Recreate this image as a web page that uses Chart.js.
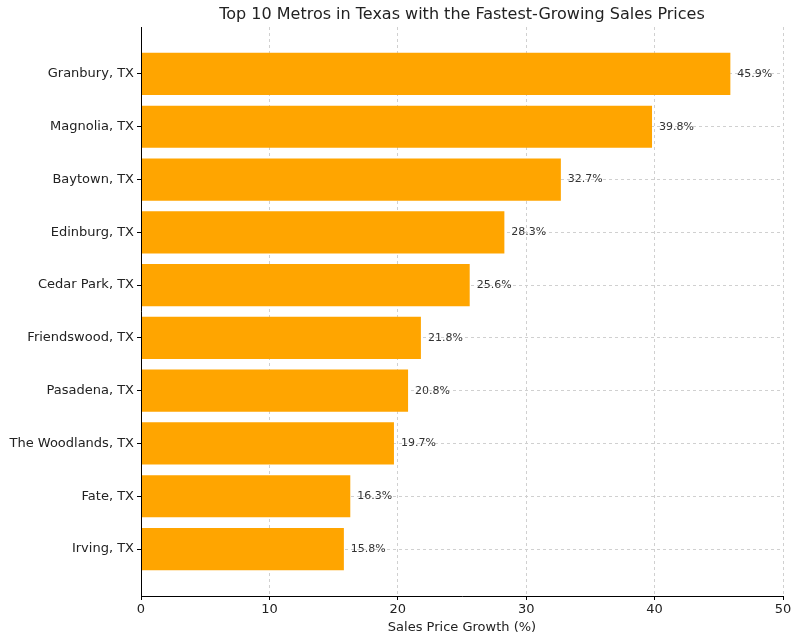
<!DOCTYPE html>
<html><head><meta charset="utf-8">
<script src="https://cdn.jsdelivr.net/npm/chart.js@4"></script>
<style>html,body{margin:0;padding:0;background:#fff}#w{width:800px;height:639px}</style>
</head><body><div id="w"><canvas id="c"></canvas></div>
<script>
const categories = ["Granbury, TX","Magnolia, TX","Baytown, TX","Edinburg, TX","Cedar Park, TX","Friendswood, TX","Pasadena, TX","The Woodlands, TX","Fate, TX","Irving, TX"];
const growth = [45.9,39.8,32.7,28.3,25.6,21.8,20.8,19.7,16.3,15.8];
const xTicks = [0,10,20,30,40,50];
const titleText = "Top 10 Metros in Texas with the Fastest-Growing Sales Prices";
const font = "DejaVu Sans";

const pts = growth.map((v,i)=>({x:v,y:i}));
const labelsPlugin = {
  id:'lbl',
  afterDatasetsDraw(chart){
    const ctx=chart.ctx, meta=chart.getDatasetMeta(0);
    ctx.save();ctx.font='11px "'+font+'"';ctx.fillStyle='#333';ctx.textBaseline='middle';
    meta.data.forEach((b,i)=>{ctx.fillText(growth[i].toFixed(1)+'%', b.x+7, b.y);});
    const a=chart.chartArea;
    ctx.font='16px "'+font+'"';ctx.textAlign='center';ctx.fillStyle='#222';
    ctx.fillText(titleText,(a.left+a.right)/2,15);
    ctx.strokeStyle='#000';ctx.lineWidth=1;ctx.setLineDash([]);ctx.beginPath();
    ctx.moveTo(a.left+0.5,a.top);ctx.lineTo(a.left+0.5,a.bottom+0.5);ctx.lineTo(a.right,a.bottom+0.5);ctx.stroke();
    ctx.restore();
  }
};
new Chart(document.getElementById('c'),{
  type:'bar',
  data:{datasets:[{data:pts,backgroundColor:'#FFA500',barPercentage:0.8,categoryPercentage:1}]},
  options:{
    indexAxis:'y',responsive:true,maintainAspectRatio:false,animation:false,
    layout:{padding:{top:27,right:17,left:0,bottom:0}},
    plugins:{legend:{display:false},tooltip:{enabled:false}},
    scales:{
      x:{type:'linear',min:0,max:50,afterBuildTicks:s=>{s.ticks=xTicks.map(v=>({value:v}));},
        afterFit:s=>{s.height=43;},
        border:{display:false,dash:[3,3]},
        grid:{color:'#d0d0d0',drawTicks:true,tickLength:4,tickColor:'#000',tickBorderDash:[]},
        ticks:{color:'#222',font:{family:font,size:13},padding:2},
        title:{display:true,text:'Sales Price Growth (%)',color:'#222',font:{family:font,size:13},padding:{top:0}}},
      y:{type:'linear',min:-0.89,max:9.89,reverse:true,offset:false,
        afterBuildTicks:s=>{s.ticks=categories.map((c,i)=>({value:i}));},
        afterFit:s=>{s.width=141;},
        border:{display:false,dash:[3,3]},
        grid:{offset:false,color:'#d0d0d0',tickLength:4,tickColor:'#000',tickBorderDash:[]},
        ticks:{color:'#222',font:{family:font,size:13},padding:3,callback:v=>categories[v]}}
    }
  },
  plugins:[labelsPlugin]
});
</script></body></html>
